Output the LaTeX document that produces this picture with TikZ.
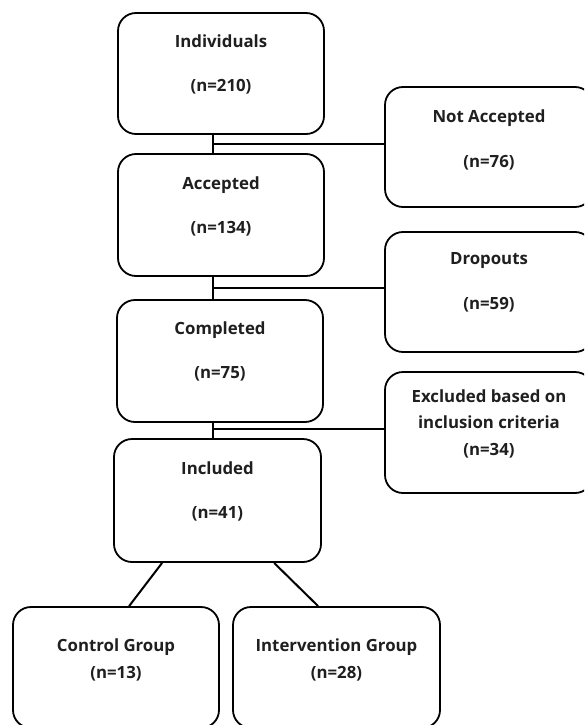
\documentclass[tikz,border=0pt]{standalone}
\usepackage{fontspec}
\setmainfont{Open Sans}
\usetikzlibrary{calc}
\tikzset{
  box/.style={draw=black, line width=1.8pt, rounded corners=18pt, inner sep=0pt, fill=white},
  lbl/.style={font=\bfseries\fontsize{16.8}{19}\selectfont, text height=12pt, text depth=0pt, inner sep=0pt, anchor=center, text=black!88},
  conn/.style={draw=black, line width=2pt},
}
\begin{document}
\begin{tikzpicture}[x=1pt,y=-1pt]
\useasboundingbox (0,0) rectangle (584,725);
\clip (0,0) rectangle (584,725);
\fill[white] (0,0) rectangle (584,725);
% junctions
\coordinate (j1) at (212.5,144);
\coordinate (j2) at (212.5,288);
\coordinate (j3) at (212.5,429);
% left column
\node[box, minimum width=206pt, minimum height=121pt] (ind) at (221,73.5) {};
\node[box, minimum width=206pt, minimum height=122pt] (acc) at (221,215) {};
\node[box, minimum width=206pt, minimum height=122pt] (comp) at (220,361) {};
\node[box, minimum width=207pt, minimum height=123pt] (incl) at (217.5,500.5) {};
% right column
\node[box, minimum width=208pt, minimum height=120pt] (na) at (489,147) {};
\node[box, minimum width=208pt, minimum height=120pt] (drop) at (489,292) {};
\node[box, minimum width=208pt, minimum height=121pt] (excl) at (489,432.5) {};
% bottom
\node[box, minimum width=206pt, minimum height=121pt] (ctrl) at (116,667.5) {};
\node[box, minimum width=207pt, minimum height=121pt] (intv) at (336.5,667.5) {};
% connectors
\draw[conn] (ind.south -| j1) -- (acc.north -| j1);
\draw[conn] (j1) -- (na.west |- j1);
\draw[conn] (acc.south -| j2) -- (comp.north -| j2);
\draw[conn] (j2) -- (drop.west |- j2);
\draw[conn] (comp.south -| j3) -- (incl.north -| j3);
\draw[conn] (j3) -- (excl.west |- j3);
\draw[conn] ($(incl.south west)+(49,0)$) -- ($(ctrl.north west)+(117,0)$);
\draw[conn] ($(incl.south west)+(161,0)$) -- ($(intv.north west)+(86,0)$);
% labels
\path (ind.north) ++(0,29) node[lbl] (t1) {Individuals} ++(0,44) node[lbl] (n1) {(n=210)};
\path (acc.north) ++(0,30) node[lbl] (t2) {Accepted} ++(0,44) node[lbl] (n2) {(n=134)};
\path (comp.north) ++(0,29) node[lbl] (t3) {Completed} ++(0,44) node[lbl] (n3) {(n=75)};
\path (incl.north) ++(0,30) node[lbl] (t4) {Included} ++(0,44) node[lbl] (n4) {(n=41)};
\path (na.north) ++(0,30) node[lbl] (t5) {Not Accepted} ++(0,45) node[lbl] (n5) {(n=76)};
\path (drop.north) ++(0,27) node[lbl] (t6) {Dropouts} ++(0,45) node[lbl] (n6) {(n=59)};
\path (excl.north) ++(0,25) node[lbl] (t7) {Excluded based on} ++(0,26) node[lbl] (t7b) {inclusion criteria} ++(0,27) node[lbl] (n7) {(n=34)};
\path (ctrl.north) ++(0,39) node[lbl] (t8) {Control Group} ++(0,27) node[lbl] (n8) {(n=13)};
\path (intv.north) ++(0,39) node[lbl] (t9) {Intervention Group} ++(0,27) node[lbl] (n9) {(n=28)};
\end{tikzpicture}
\end{document}
